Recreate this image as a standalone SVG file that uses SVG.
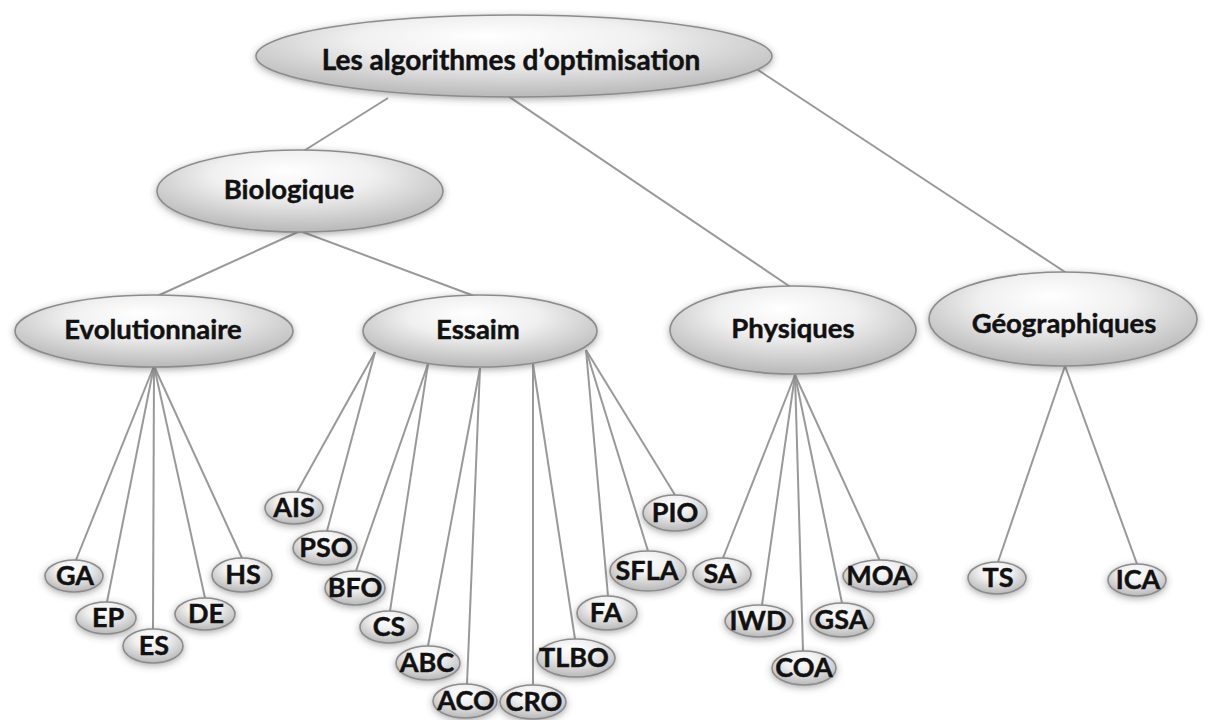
<svg xmlns="http://www.w3.org/2000/svg" width="1209" height="720" viewBox="0 0 1209 720">
<defs>
<radialGradient id="g" cx="50%" cy="35%" r="62%" fx="45%" fy="25%">
<stop offset="0" stop-color="#ffffff"/>
<stop offset="0.45" stop-color="#f0f0f0"/>
<stop offset="1" stop-color="#bcbcbc"/>
</radialGradient>
<filter id="sh" x="-20%" y="-40%" width="140%" height="180%">
<feDropShadow dx="0" dy="2" stdDeviation="3.5" flood-color="#444" flood-opacity="0.45"/>
</filter>
<style>
.n ellipse{fill:url(#g);stroke:#8c8c8c;stroke-width:1.6;filter:url(#sh)}
.n text{font-family:Lato,"Open Sans","Liberation Sans",sans-serif;font-weight:700;fill:#111;stroke:#111;stroke-width:0.45;text-anchor:middle}
.big text{font-size:27.5px}
.sm text{font-size:27px}
#edges line{stroke:#999;stroke-width:2;fill:none}
</style>
</defs>
<rect width="1209" height="720" fill="#fff"/>
<g id="edges">
<line x1="388" y1="98" x2="302" y2="152"/>
<line x1="505" y1="94" x2="792" y2="288"/>
<line x1="755" y1="68" x2="1068" y2="274"/>
<line x1="300" y1="231" x2="155" y2="297"/>
<line x1="300" y1="231" x2="477" y2="297"/>
<line x1="154" y1="366" x2="76" y2="560"/>
<line x1="154" y1="366" x2="107" y2="602"/>
<line x1="154" y1="366" x2="153" y2="630"/>
<line x1="154" y1="366" x2="205" y2="598"/>
<line x1="154" y1="366" x2="242" y2="558"/>
<line x1="375" y1="352" x2="297" y2="492"/>
<line x1="375" y1="352" x2="327" y2="531"/>
<line x1="428" y1="364" x2="356" y2="571"/>
<line x1="428" y1="364" x2="390" y2="611"/>
<line x1="480" y1="368" x2="428" y2="646"/>
<line x1="480" y1="368" x2="467" y2="684"/>
<line x1="533" y1="364" x2="533" y2="685"/>
<line x1="533" y1="364" x2="575" y2="639"/>
<line x1="586" y1="350" x2="608" y2="596"/>
<line x1="586" y1="350" x2="648" y2="551"/>
<line x1="586" y1="350" x2="675" y2="495"/>
<line x1="795" y1="375" x2="723" y2="558"/>
<line x1="795" y1="375" x2="762" y2="605"/>
<line x1="795" y1="375" x2="803" y2="651"/>
<line x1="795" y1="375" x2="842" y2="603"/>
<line x1="795" y1="375" x2="880" y2="561"/>
<line x1="1065" y1="366" x2="998" y2="562"/>
<line x1="1065" y1="366" x2="1137" y2="564"/>
</g>
<g id="root" class="n big"><ellipse cx="514" cy="56" rx="258" ry="41"/><text x="511" y="70" style="font-size:28px">Les algorithmes d’optimisation</text></g>
<g id="biologique" class="n big"><ellipse cx="300" cy="191" rx="143" ry="41"/><text x="289" y="199">Biologique</text></g>
<g id="evolutionnaire" class="n big"><ellipse cx="154" cy="331" rx="139" ry="36"/><text x="153" y="339">Evolutionnaire</text></g>
<g id="essaim" class="n big"><ellipse cx="480" cy="331" rx="117" ry="36"/><text x="478" y="339">Essaim</text></g>
<g id="physiques" class="n big"><ellipse cx="793" cy="330" rx="123" ry="44"/><text x="793" y="338">Physiques</text></g>
<g id="geographiques" class="n big"><ellipse cx="1063" cy="319" rx="134" ry="47"/><text x="1064" y="333">Géographiques</text></g>
<g id="GA" class="n sm"><ellipse cx="74" cy="576" rx="29" ry="16"/><text x="75" y="585">GA</text></g>
<g id="EP" class="n sm"><ellipse cx="106" cy="618" rx="30" ry="16"/><text x="108" y="627">EP</text></g>
<g id="ES" class="n sm"><ellipse cx="153" cy="646" rx="30" ry="17"/><text x="154" y="655">ES</text></g>
<g id="DE" class="n sm"><ellipse cx="205" cy="614" rx="30" ry="16"/><text x="206" y="623">DE</text></g>
<g id="HS" class="n sm"><ellipse cx="242" cy="575" rx="30" ry="17"/><text x="243" y="584">HS</text></g>
<g id="AIS" class="n sm"><ellipse cx="294" cy="508" rx="29" ry="16"/><text x="294" y="517">AIS</text></g>
<g id="PSO" class="n sm"><ellipse cx="325" cy="548" rx="32" ry="17"/><text x="326" y="557">PSO</text></g>
<g id="BFO" class="n sm"><ellipse cx="355" cy="588" rx="30" ry="17"/><text x="355" y="597">BFO</text></g>
<g id="CS" class="n sm"><ellipse cx="389" cy="627" rx="29" ry="16"/><text x="389" y="636">CS</text></g>
<g id="ABC" class="n sm"><ellipse cx="428" cy="663" rx="32" ry="17"/><text x="427" y="672">ABC</text></g>
<g id="ACO" class="n sm"><ellipse cx="465" cy="701" rx="32" ry="17"/><text x="466" y="710">ACO</text></g>
<g id="CRO" class="n sm"><ellipse cx="533" cy="702" rx="33" ry="17"/><text x="534" y="711">CRO</text></g>
<g id="TLBO" class="n sm"><ellipse cx="576" cy="658" rx="39" ry="19"/><text x="574" y="667">TLBO</text></g>
<g id="FA" class="n sm"><ellipse cx="607" cy="613" rx="30" ry="17"/><text x="606" y="622">FA</text></g>
<g id="SFLA" class="n sm"><ellipse cx="648" cy="571" rx="38" ry="20"/><text x="647" y="580">SFLA</text></g>
<g id="PIO" class="n sm"><ellipse cx="675" cy="513" rx="32" ry="18"/><text x="675" y="522">PIO</text></g>
<g id="SA" class="n sm"><ellipse cx="722" cy="574" rx="29" ry="16"/><text x="720" y="583">SA</text></g>
<g id="IWD" class="n sm"><ellipse cx="759" cy="621" rx="34" ry="16"/><text x="758" y="630">IWD</text></g>
<g id="COA" class="n sm"><ellipse cx="804" cy="668" rx="32" ry="17"/><text x="804" y="677">COA</text></g>
<g id="GSA" class="n sm"><ellipse cx="842" cy="620" rx="32" ry="17"/><text x="841" y="629">GSA</text></g>
<g id="MOA" class="n sm"><ellipse cx="880" cy="576" rx="37" ry="16"/><text x="879" y="585">MOA</text></g>
<g id="TS" class="n sm"><ellipse cx="997" cy="578" rx="29" ry="16"/><text x="998" y="587">TS</text></g>
<g id="ICA" class="n sm"><ellipse cx="1137" cy="580" rx="29" ry="16"/><text x="1138" y="589">ICA</text></g>
</svg>
